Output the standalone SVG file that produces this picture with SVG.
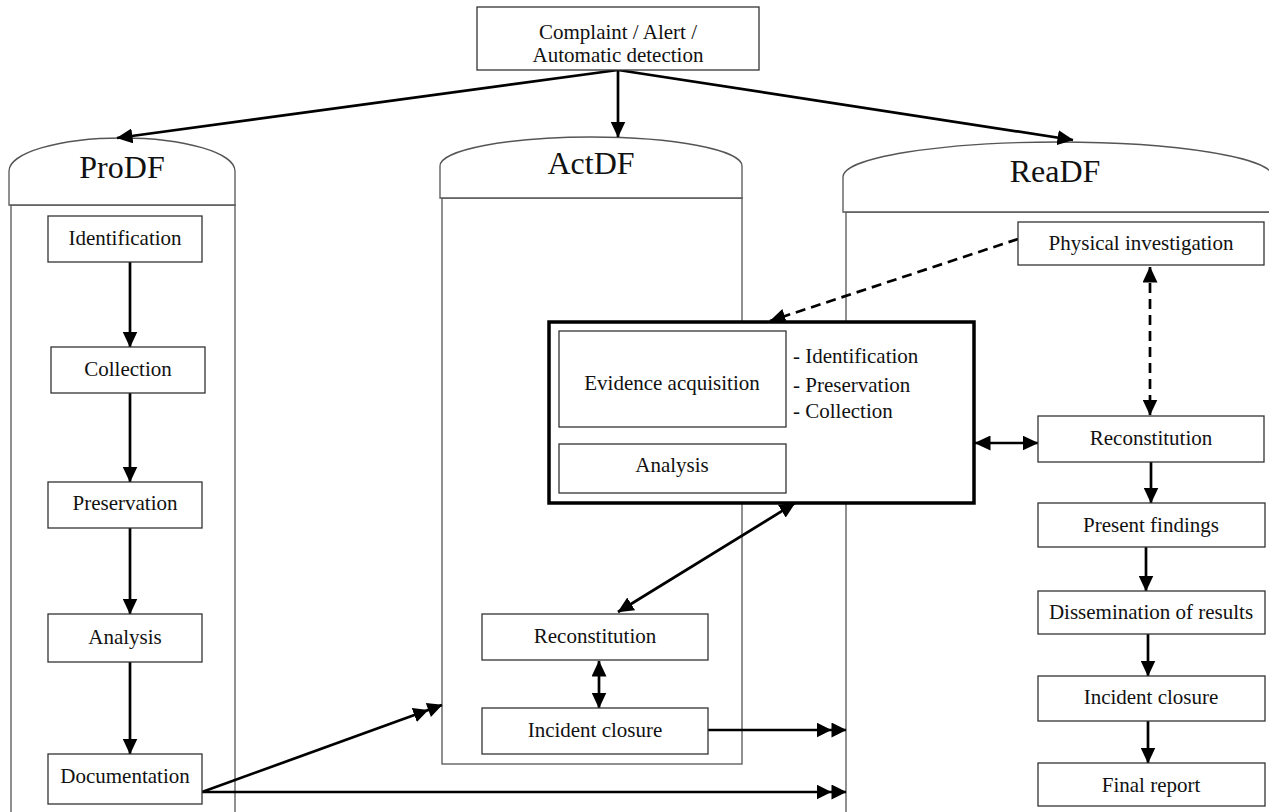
<svg xmlns="http://www.w3.org/2000/svg" width="1269" height="812" viewBox="0 0 1269 812">
<style>
  text { font-family: "Liberation Serif", "Times New Roman", serif; fill: #111; }
  .lbl { font-size: 21px; text-anchor: middle; }
  .lst { font-size: 21px; text-anchor: start; }
  .hdr { font-size: 32px; text-anchor: middle; }
  .box { fill: #fff; stroke: #333; stroke-width: 1.3; }
  .col { fill: #fff; stroke: #555; stroke-width: 1.3; }
  .thick { fill: #fff; stroke: #000; stroke-width: 3.5; }
  .arr { fill: none; stroke: #000; stroke-width: 2.7; }
  .dash { fill: none; stroke: #000; stroke-width: 2.7; stroke-dasharray: 10 6; }
  .one { marker-end: url(#ah); }
  .two { marker-start: url(#ah); marker-end: url(#ah); }
  .dbl { marker-end: url(#dah); }
</style>
<defs>
  <marker id="ah" viewBox="0 0 16 15" refX="15.5" refY="7.5" markerWidth="16" markerHeight="15" markerUnits="userSpaceOnUse" orient="auto-start-reverse">
    <path d="M0,0 L16,7.5 L0,15 Z" fill="#000"/>
  </marker>
  <marker id="dah" viewBox="0 0 30 15" refX="29.5" refY="7.5" markerWidth="30" markerHeight="15" markerUnits="userSpaceOnUse" orient="auto">
    <path d="M0,0 L15,7.5 L0,15 Z M15,0 L30,7.5 L15,15 Z" fill="#000"/>
  </marker>
</defs>
<rect width="1269" height="812" fill="#fff"/>

<!-- Columns -->
<g id="col-prodf">
  <rect class="col" x="11" y="205" width="224" height="640"/>
  <path class="col" d="M9,205 V171 A113,33 0 0 1 235,171 V205 Z"/>
  <text class="hdr" x="122" y="178">ProDF</text>
</g>
<g id="col-actdf">
  <rect class="col" x="442" y="198" width="300" height="566"/>
  <path class="col" d="M440,198 V166 A151,29 0 0 1 742,166 V198 Z"/>
  <text class="hdr" x="591" y="174">ActDF</text>
</g>
<g id="col-readf">
  <rect class="col" x="846" y="212" width="430" height="640"/>
  <path class="col" d="M843,212 V177 A215,35 0 0 1 1273,177 V212 Z"/>
  <text class="hdr" x="1055" y="182">ReaDF</text>
</g>

<!-- Thick container -->
<g id="acq-group">
  <rect class="thick" x="549" y="322" width="425" height="181"/>
</g>

<!-- Connectors -->
<g id="connectors">
  <line class="arr one" x1="618" y1="70" x2="117" y2="138"/>
  <line class="arr one" x1="618" y1="70" x2="618" y2="137"/>
  <line class="arr one" x1="618" y1="70" x2="1073" y2="140"/>

  <line class="arr one" x1="130" y1="262" x2="130" y2="347"/>
  <line class="arr one" x1="130" y1="393" x2="130" y2="482"/>
  <line class="arr one" x1="130" y1="528" x2="130" y2="614"/>
  <line class="arr one" x1="130" y1="662" x2="130" y2="754"/>

  <line class="arr dbl" x1="202" y1="792" x2="442" y2="705"/>
  <line class="arr dbl" x1="202" y1="792" x2="846" y2="792"/>
  <line class="arr dbl" x1="708" y1="730" x2="846" y2="730"/>

  <line class="arr two" x1="599" y1="661" x2="599" y2="708"/>
  <line class="arr two" x1="618" y1="612" x2="795" y2="503"/>
  <line class="arr two" x1="975" y1="443" x2="1038" y2="443"/>

  <line class="dash one" x1="1018" y1="239" x2="770" y2="321"/>
  <line class="dash two" x1="1150" y1="267" x2="1150" y2="415"/>

  <line class="arr one" x1="1151" y1="462" x2="1151" y2="503"/>
  <line class="arr one" x1="1146" y1="547" x2="1146" y2="591"/>
  <line class="arr one" x1="1148" y1="634" x2="1148" y2="676"/>
  <line class="arr one" x1="1148" y1="721" x2="1148" y2="763"/>
</g>

<!-- Nodes -->
<g id="n-complaint">
  <rect class="box" x="477" y="7" width="282" height="63"/>
  <text class="lbl" x="618" y="39">Complaint / Alert /</text>
  <text class="lbl" x="618" y="62">Automatic detection</text>
</g>

<g id="n-pro-identification">
  <rect class="box" x="48" y="216" width="154" height="46"/>
  <text class="lbl" x="125" y="245">Identification</text>
</g>
<g id="n-pro-collection">
  <rect class="box" x="51" y="347" width="154" height="46"/>
  <text class="lbl" x="128" y="376">Collection</text>
</g>
<g id="n-pro-preservation">
  <rect class="box" x="48" y="482" width="154" height="46"/>
  <text class="lbl" x="125" y="510">Preservation</text>
</g>
<g id="n-pro-analysis">
  <rect class="box" x="48" y="614" width="154" height="48"/>
  <text class="lbl" x="125" y="644">Analysis</text>
</g>
<g id="n-pro-documentation">
  <rect class="box" x="48" y="754" width="154" height="50"/>
  <text class="lbl" x="125" y="783">Documentation</text>
</g>

<g id="n-evidence">
  <rect class="box" x="559" y="331" width="227" height="96"/>
  <text class="lbl" x="672" y="390">Evidence acquisition</text>
</g>
<g id="n-evidence-list">
  <text class="lst" x="793" y="363">- Identification</text>
  <text class="lst" x="793" y="392">- Preservation</text>
  <text class="lst" x="793" y="418">- Collection</text>
</g>
<g id="n-act-analysis">
  <rect class="box" x="559" y="444" width="227" height="49"/>
  <text class="lbl" x="672" y="472">Analysis</text>
</g>
<g id="n-act-reconstitution">
  <rect class="box" x="482" y="614" width="226" height="46"/>
  <text class="lbl" x="595" y="643">Reconstitution</text>
</g>
<g id="n-act-closure">
  <rect class="box" x="482" y="708" width="226" height="46"/>
  <text class="lbl" x="595" y="737">Incident closure</text>
</g>

<g id="n-physical">
  <rect class="box" x="1018" y="222" width="246" height="43"/>
  <text class="lbl" x="1141" y="250">Physical investigation</text>
</g>
<g id="n-rea-reconstitution">
  <rect class="box" x="1038" y="416" width="226" height="46"/>
  <text class="lbl" x="1151" y="445">Reconstitution</text>
</g>
<g id="n-present">
  <rect class="box" x="1038" y="503" width="227" height="44"/>
  <text class="lbl" x="1151" y="532">Present findings</text>
</g>
<g id="n-dissemination">
  <rect class="box" x="1038" y="591" width="227" height="43"/>
  <text class="lbl" x="1151" y="619">Dissemination of results</text>
</g>
<g id="n-rea-closure">
  <rect class="box" x="1038" y="676" width="227" height="45"/>
  <text class="lbl" x="1151" y="704">Incident closure</text>
</g>
<g id="n-final">
  <rect class="box" x="1038" y="763" width="227" height="43"/>
  <text class="lbl" x="1151" y="792">Final report</text>
</g>
</svg>
